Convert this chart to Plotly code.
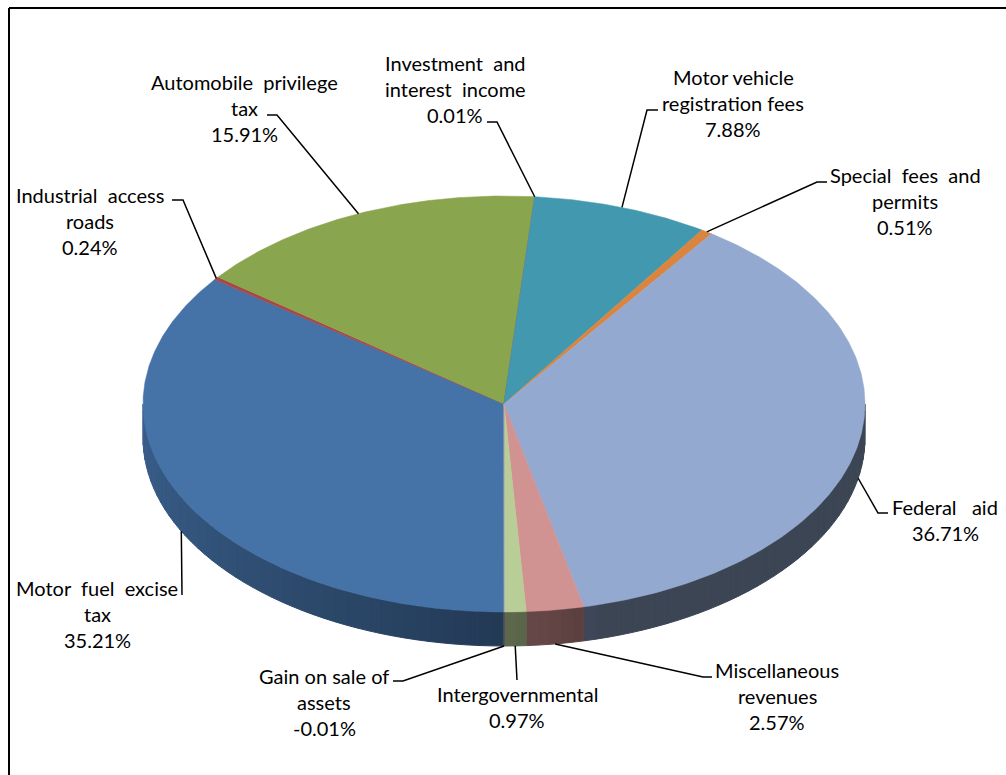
import numpy as np
import plotly.graph_objects as go

# ---------------- data ----------------
categories = ["Motor fuel excise tax", "Industrial access roads", "Automobile privilege tax",
              "Investment and interest income", "Motor vehicle registration fees",
              "Special fees and permits", "Federal aid", "Miscellaneous revenues",
              "Intergovernmental", "Gain on sale of assets"]
label_lines = [["Motor\u00a0 fuel\u00a0 excise", "tax"], ["Industrial\u00a0 access", "roads"],
               ["Automobile\u00a0 privilege", "tax"], ["Investment\u00a0 and", "interest\u00a0 income"],
               ["Motor vehicle", "registration fees"], ["Special\u00a0 fees\u00a0 and", "permits"],
               ["Federal\u00a0\u00a0 aid"], ["Miscellaneous", "revenues"],
               ["Intergovernmental"], ["Gain on sale of", "assets"]]
shares = [35.21, 0.24, 15.91, 0.01, 7.88, 0.51, 36.71, 2.57, 0.97, -0.01]

# ---------------- styles / layout ----------------
colors = ["#4572A7", "#AA4643", "#89A54E", "#71588F", "#4198AF",
          "#DB843D", "#93A9CF", "#D19392", "#B9CD96", "#A99BBD"]
W, H = 1006, 775
CX, CY, RX, RY, DEPTH = 504, 404, 361, 208, 34
FIRST_ANGLE = 180.0
FONT = dict(family="Lato", size=20, color="black")
LINE_GAP = 26
# label block centre x, first line centre y
label_pos = [(97, 588), (90, 195), (244, 82), (455, 63), (733, 77),
             (905, 175), (945, 507), (777, 670), (517, 694), (324, 676)]
# leader polyline points from the label towards the pie (endpoint is computed)
leader_pts = [[(182, 595)], [(172, 200), (183, 200)], [(267, 115), (277, 115)],
              [(487, 122), (497, 122)], [(658, 110), (647, 110)],
              [(827, 182), (817, 182)], [(888, 513), (878, 513)],
              [(712, 677), (703, 677)], [(517, 680)], [(393, 681), (403, 681)]]


def proj(theta, dz=0.0):
    t = np.radians(theta)
    return CX + RX * np.sin(t), CY - RY * np.cos(t) + dz


def shade(hexc, f):
    r, g, b = int(hexc[1:3], 16), int(hexc[3:5], 16), int(hexc[5:7], 16)
    return "rgb(%d,%d,%d)" % (r * f, g * f, b * f)


def side_factor(theta):
    th = theta % 360
    u = np.clip((th - 165.0) / 105.0, 0, 1)
    return 0.41 + 0.43 * u ** 0.75


vals = np.abs(np.array(shares))
frac = vals / vals.sum()
ends = FIRST_ANGLE + 360 * np.cumsum(frac)
starts = ends - 360 * frac

fig = go.Figure()

# ---- sides (front half) ----
for i in range(len(categories)):
    a, b = starts[i], ends[i]
    for lo, hi in [(90, 270), (450, 630)]:
        s0, s1 = max(a, lo), min(b, hi)
        if s1 <= s0:
            continue
        n = max(1, int(np.ceil((s1 - s0) / 2.0)))
        edges = np.linspace(s0, s1, n + 1)
        for k in range(n):
            tt = np.linspace(edges[k], edges[k + 1], 4)
            xt, yt = proj(tt)
            xb, yb = proj(tt[::-1], DEPTH)
            c = shade(colors[i], side_factor((edges[k] + edges[k + 1]) / 2))
            fig.add_trace(go.Scatter(x=np.r_[xt, xb, xt[0]], y=np.r_[yt, yb, yt[0]],
                                     mode="lines", fill="toself", fillcolor=c,
                                     line=dict(color=c, width=1), hoverinfo="skip",
                                     showlegend=False))

# ---- top faces ----
for i in range(len(categories)):
    tt = np.linspace(starts[i], ends[i], max(2, int((ends[i] - starts[i]) * 2) + 2))
    xs, ys = proj(tt)
    fig.add_trace(go.Scatter(x=np.r_[CX, xs, CX], y=np.r_[CY, ys, CY],
                             mode="lines", fill="toself", fillcolor=colors[i],
                             line=dict(color=colors[i], width=0.5),
                             name=categories[i], hoverinfo="name", showlegend=False))

# ---- leader lines and labels ----
annotations = []
for i in range(len(categories)):
    mid = (starts[i] + ends[i]) / 2
    m = mid % 360
    dz = DEPTH if 90 < m < 270 else 0
    ex, ey = proj(mid, dz)
    pts = leader_pts[i] + [(ex, ey)]
    fig.add_trace(go.Scatter(x=[p[0] for p in pts], y=[p[1] for p in pts], mode="lines",
                             line=dict(color="black", width=1.5), hoverinfo="skip",
                             showlegend=False))
    lines = label_lines[i] + ["%.2f%%" % shares[i]]
    lx, ly = label_pos[i]
    for j, t in enumerate(lines):
        annotations.append(dict(x=lx, y=ly + j * LINE_GAP, xref="x", yref="y", text=t,
                                showarrow=False, xanchor="center", yanchor="middle",
                                font=FONT))

shapes = [dict(type="line", x0=9, y0=8, x1=9, y1=H + 5, xref="x", yref="y",
               line=dict(color="black", width=2)),
          dict(type="line", x0=9, y0=8, x1=W + 5, y1=8, xref="x", yref="y",
               line=dict(color="black", width=2))]

fig.update_layout(width=W, height=H, margin=dict(l=0, r=0, t=0, b=0),
                  paper_bgcolor="white", plot_bgcolor="white",
                  xaxis=dict(range=[0, W], visible=False, fixedrange=True),
                  yaxis=dict(range=[H, 0], visible=False, fixedrange=True),
                  annotations=annotations, shapes=shapes, showlegend=False)

fig.write_html("out.html", config={"displayModeBar": False},
               post_script="document.body.style.margin='0px';"
                           "document.body.style.overflow='hidden';")
